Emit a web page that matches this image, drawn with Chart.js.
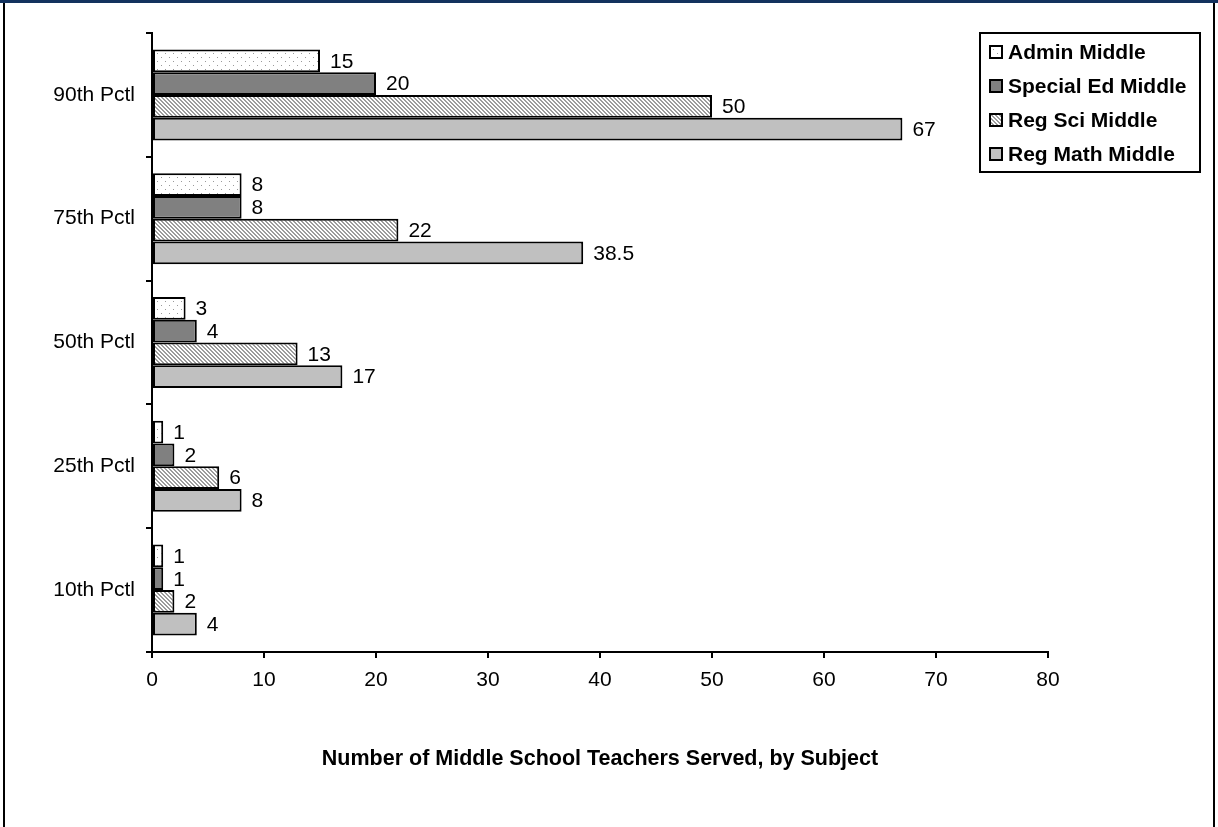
<!DOCTYPE html>
<html>
<head>
<meta charset="utf-8">
<title>Middle School Teachers Served</title>
<script src="https://cdn.jsdelivr.net/npm/chart.js@4/dist/chart.umd.min.js"></script>
<style>
  body { margin: 0; background: #fff; }
  #contenedor { position: relative; width: 1218px; height: 827px; overflow: hidden; }
  #grafico { position: absolute; left: 0; top: 0; }
  #bordeSup { position: absolute; left: 0; top: 0; width: 1218px; height: 3px; background: #13325e; }
  #bordeLat { position: absolute; left: 3px; top: 3px; width: 1208px; height: 830px;
              border-left: 2px solid #000; border-right: 2px solid #000; pointer-events: none; }
</style>
</head>
<body>
<div id="contenedor">
  <canvas id="grafico" width="1218" height="827"></canvas>
  <div id="bordeSup"></div>
  <div id="bordeLat"></div>
</div>
<script>
// Datos del gráfico
const percentiles = ['90th Pctl', '75th Pctl', '50th Pctl', '25th Pctl', '10th Pctl'];
const seriesNames = ['Admin Middle', 'Special Ed Middle', 'Reg Sci Middle', 'Reg Math Middle'];
const adminMiddle = [15, 8, 3, 1, 1];
const specialEdMiddle = [20, 8, 4, 2, 1];
const regSciMiddle = [50, 22, 13, 6, 2];
const regMathMiddle = [67, 38.5, 17, 8, 4];
const xTicks = [0, 10, 20, 30, 40, 50, 60, 70, 80];
const axisTitle = 'Number of Middle School Teachers Served, by Subject';

const fuente = "Arial, 'Liberation Sans', sans-serif";

document.addEventListener('DOMContentLoaded', function() {
    const canvas = document.getElementById('grafico');
    const ctx = canvas.getContext('2d');

    // Patrón de puntos (Admin)
    function patronPuntos() {
        const c = document.createElement('canvas');
        c.width = 8; c.height = 8;
        const g = c.getContext('2d');
        g.fillStyle = '#fff';
        g.fillRect(0, 0, 8, 8);
        g.fillStyle = '#9a9a9a';
        g.fillRect(1, 1, 1, 1);
        g.fillRect(5, 5, 1, 1);
        return ctx.createPattern(c, 'repeat');
    }

    // Patrón de rayas diagonales (Reg Sci)
    function patronRayas() {
        const c = document.createElement('canvas');
        c.width = 4; c.height = 4;
        const g = c.getContext('2d');
        g.fillStyle = '#fff';
        g.fillRect(0, 0, 4, 4);
        g.fillStyle = '#9c9c9c';
        for (let i = 0; i < 4; i++) {
            g.fillRect(i, i, 1, 1);
            g.fillRect((i + 1) % 4, i, 1, 1);
        }
        return ctx.createPattern(c, 'repeat');
    }

    const rellenos = [patronPuntos(), '#808080', patronRayas(), '#c0c0c0'];
    const valores = [adminMiddle, specialEdMiddle, regSciMiddle, regMathMiddle];

    const datasets = seriesNames.map((nombre, i) => ({
        label: nombre,
        data: valores[i],
        backgroundColor: rellenos[i],
        borderColor: '#000',
        borderWidth: 2,
        borderSkipped: false,
        categoryPercentage: 0.735,
        barPercentage: 1.0
    }));

    // Etiquetas de valor a la derecha de cada barra
    const etiquetasPlugin = {
        id: 'etiquetas',
        afterDatasetsDraw(chart) {
            const c = chart.ctx;
            c.save();
            c.font = '21px ' + fuente;
            c.fillStyle = '#000';
            c.textAlign = 'left';
            c.textBaseline = 'middle';
            chart.data.datasets.forEach((ds, i) => {
                chart.getDatasetMeta(i).data.forEach((bar, j) => {
                    c.fillText(String(ds.data[j]), bar.x + 10, bar.y + 1);
                });
            });
            c.restore();
        }
    };

    // Leyenda con recuadro
    const leyendaPlugin = {
        id: 'leyenda',
        afterDraw(chart) {
            const c = chart.ctx;
            const x0 = 980, y0 = 33, w = 220, h = 139;
            c.save();
            c.fillStyle = '#fff';
            c.fillRect(x0, y0, w, h);
            c.lineWidth = 2;
            c.strokeStyle = '#000';
            c.strokeRect(x0, y0, w, h);
            c.font = 'bold 21px ' + fuente;
            c.textBaseline = 'middle';
            c.textAlign = 'left';
            chart.data.datasets.forEach((ds, i) => {
                const cy = 52 + i * 34;
                c.fillStyle = ds.backgroundColor;
                c.fillRect(990, cy - 6, 12, 12);
                c.lineWidth = 2;
                c.strokeStyle = '#000';
                c.strokeRect(990, cy - 6, 12, 12);
                c.fillStyle = '#000';
                c.fillText(ds.label, 1008, cy + 1);
            });
            c.restore();
        }
    };

    new Chart(ctx, {
        type: 'bar',
        data: { labels: percentiles, datasets: datasets },
        options: {
            indexAxis: 'y',
            responsive: false,
            animation: false,
            devicePixelRatio: 1,
            layout: { padding: { top: 33, right: 170, bottom: 55, left: 0 } },
            plugins: {
                legend: { display: false },
                tooltip: { enabled: false }
            },
            scales: {
                x: {
                    min: 0,
                    max: 80,
                    afterFit: function(scale) { scale.height = 120; },
                    afterBuildTicks: function(scale) {
                        scale.ticks = xTicks.map(v => ({ value: v }));
                    },
                    ticks: {
                        color: '#000',
                        font: { family: fuente, size: 21 },
                        padding: 10
                    },
                    grid: {
                        drawOnChartArea: false,
                        drawTicks: true,
                        tickLength: 6,
                        color: '#000',
                        lineWidth: 2
                    },
                    border: { color: '#000', width: 2 },
                    title: {
                        display: true,
                        text: axisTitle,
                        color: '#000',
                        font: { family: fuente, size: 21.5, weight: 'bold' },
                        padding: { top: 0, bottom: 0 }
                    }
                },
                y: {
                    afterFit: function(scale) { scale.width = 152; },
                    ticks: {
                        color: '#000',
                        font: { family: fuente, size: 21 },
                        padding: 11
                    },
                    grid: {
                        offset: true,
                        drawOnChartArea: false,
                        drawTicks: true,
                        tickLength: 6,
                        color: '#000',
                        lineWidth: 2
                    },
                    border: { color: '#000', width: 2 }
                }
            }
        },
        plugins: [etiquetasPlugin, leyendaPlugin]
    });
});
</script>
</body>
</html>
